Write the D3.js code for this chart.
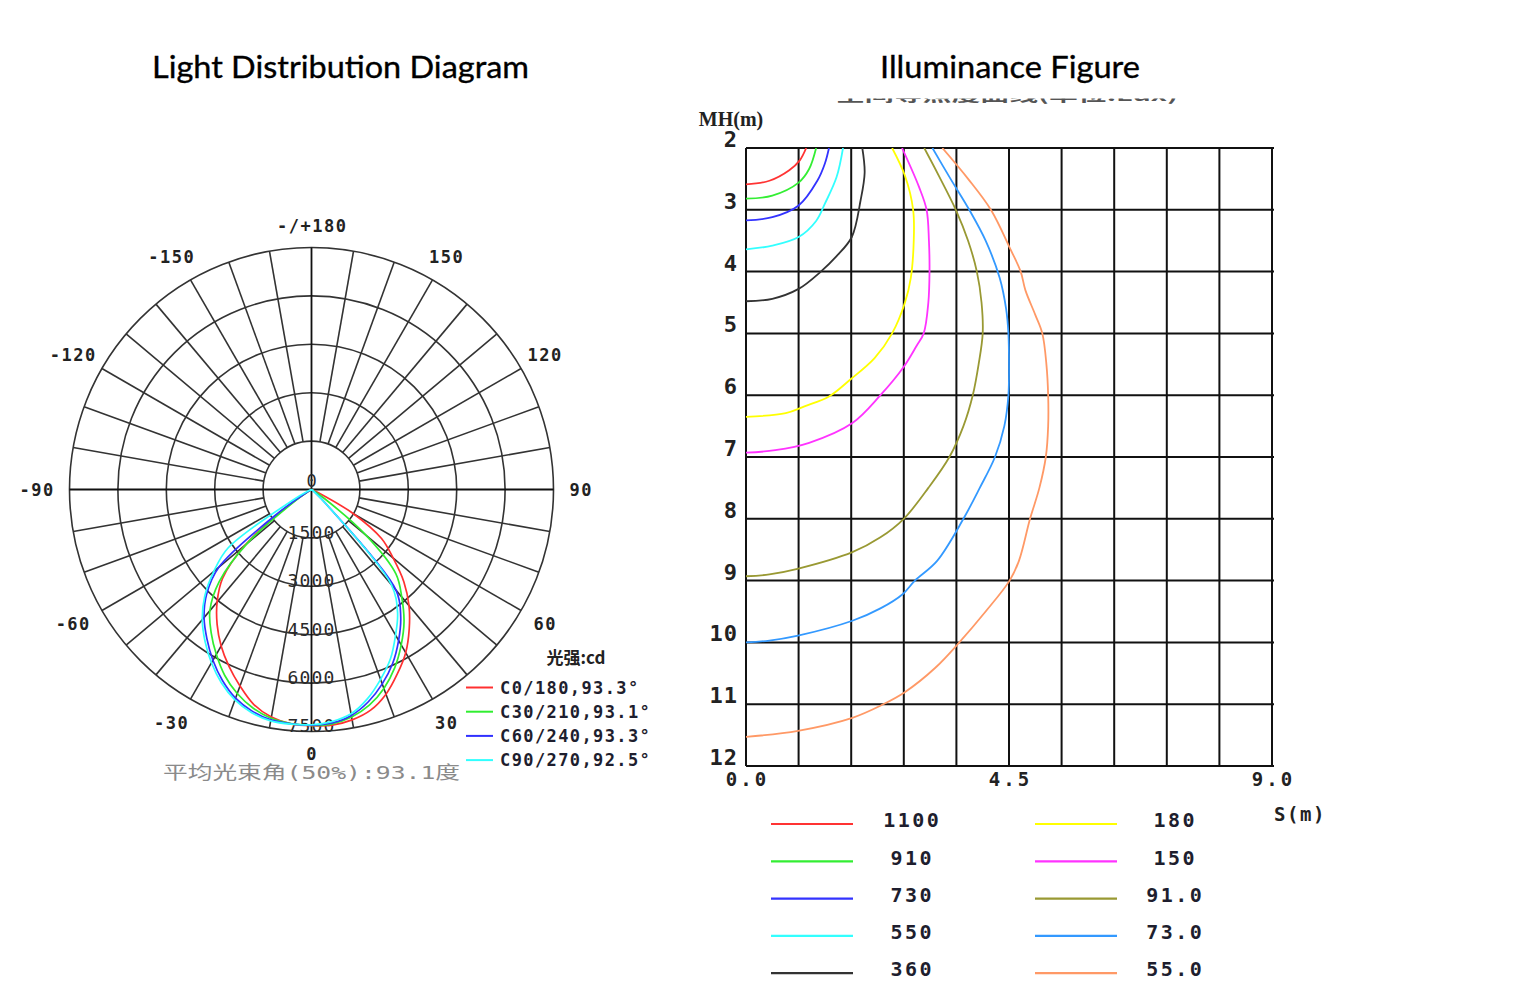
<!DOCTYPE html>
<html><head><meta charset="utf-8">
<script src="https://cdn.jsdelivr.net/npm/d3@7"></script>
<style>body{margin:0;background:#fff;}svg{display:block}</style>
</head><body>
<svg id="chart" width="1526" height="994"></svg>
<script>
// ---------- DATA: light distribution (cd) ----------
const gammaAngles = [0,5,10,15,20,25,30,35,40,45,50,55,60,65,70,75,80,85,90];
const planeC0   = [7320,7330,7250,7080,6750,6300,5840,5280,4700,4050,3300,2650,1500,250,30,0,0,0,0];
const planeC180 = [7320,7290,7160,6900,6480,6050,5600,5100,4550,3900,2700,900,150,0,0,0,0,0,0];
const planeC30  = [7310,7290,7160,6920,6560,6100,5560,5000,4350,3700,2200,500,50,0,0,0,0,0,0];
const planeC210 = [7310,7280,7200,7010,6730,6360,5900,5420,4900,4050,2600,600,80,0,0,0,0,0,0];
const planeC60  = [7300,7260,7110,6810,6410,5950,5400,4820,4080,700,150,0,0,0,0,0,0,0,0];
const planeC240 = [7300,7290,7250,7110,6880,6530,6110,5650,5180,4600,3750,1200,150,0,0,0,0,0,0];
const planeC90  = [7290,7220,7060,6710,6260,5790,5210,4650,3850,700,80,0,0,0,0,0,0,0,0];
const planeC270 = [7290,7300,7280,7160,6940,6610,6200,5750,5265,4680,3950,3150,700,100,0,0,0,0,0];
const polarLegendLabels = ["C0/180,93.3°","C30/210,93.1°","C60/240,93.3°","C90/270,92.5°"];
const polarColors = ["#ff3030","#30ee30","#3030ff","#30ffff"];
const ringValues = [1500,3000,4500,6000,7500];
const angleTicks = [0,30,60,90,120,150,180,-150,-120,-90,-60,-30];

// ---------- DATA: isolux curves [S (m), MH (m)] ----------
const isoLevels = ["1100","910","730","550","360","180","150","91.0","73.0","55.0"];
const isoColors = ["#ff3333","#33ee33","#3333ff","#33ffff","#333333","#ffff00","#ff33ff","#999933","#3399ff","#ff9966"];
const iso1100 = [[0,2.59],[0.4,2.53],[0.74,2.36],[0.92,2.2],[1.03,2.0]];
const iso910  = [[0,2.82],[0.45,2.77],[0.9,2.56],[1.08,2.34],[1.2,2.0]];
const iso730  = [[0,3.17],[0.45,3.12],[0.9,2.93],[1.22,2.53],[1.35,2.25],[1.42,2.0]];
const iso550  = [[0,3.64],[0.45,3.58],[0.9,3.44],[1.2,3.18],[1.35,2.9],[1.55,2.47],[1.66,2.0]];
const iso360  = [[0,4.48],[0.45,4.44],[0.9,4.28],[1.28,4.0],[1.55,3.75],[1.81,3.44],[1.96,2.85],[2.03,2.4],[1.99,2.0]];
const iso180  = [[0,6.35],[0.68,6.29],[1.0,6.18],[1.42,6.02],[1.78,5.75],[2.2,5.4],[2.5,5.0],[2.72,4.5],[2.82,4.1],[2.87,3.5],[2.86,3.0],[2.72,2.45],[2.5,2.0]];
const iso150  = [[0,6.93],[0.5,6.89],[1.08,6.77],[1.82,6.45],[2.3,6.0],[2.7,5.54],[2.92,5.2],[3.04,5.0],[3.12,4.5],[3.14,4.0],[3.13,3.5],[3.09,3.0],[2.96,2.63],[2.67,2.0]];
const iso91   = [[0,8.93],[0.4,8.9],[0.88,8.81],[1.82,8.54],[2.3,8.3],[2.7,8.0],[3.12,7.5],[3.48,7.0],[3.72,6.5],[3.88,6.0],[3.98,5.5],[4.05,5.0],[4.03,4.5],[3.95,4.0],[3.8,3.5],[3.59,3.0],[3.3,2.45],[3.05,2.0]];
const iso73   = [[0,10.0],[0.4,9.97],[0.89,9.89],[1.82,9.65],[2.3,9.45],[2.68,9.22],[2.89,9.0],[3.27,8.68],[3.72,8.0],[4.0,7.5],[4.26,7.0],[4.42,6.5],[4.49,6.0],[4.5,5.5],[4.49,5.0],[4.45,4.6],[4.34,4.1],[4.1,3.5],[3.82,3.0],[3.5,2.5],[3.19,2.0]];
const iso55   = [[0,11.53],[0.89,11.43],[1.82,11.22],[2.33,11.01],[2.71,10.81],[3.24,10.41],[3.65,10.0],[4.1,9.5],[4.51,9.0],[4.67,8.68],[4.86,8.0],[5.02,7.5],[5.13,7.0],[5.17,6.5],[5.17,6.0],[5.14,5.5],[5.07,5.0],[4.95,4.7],[4.78,4.3],[4.7,4.0],[4.53,3.65],[4.19,3.0],[3.8,2.5],[3.36,2.0]];
const mhTicks = [2,3,4,5,6,7,8,9,10,11,12];
const sTickLabels = ["0.0","4.5","9.0"];

// ---------- DRAW ----------
const svg = d3.select("#chart");
const MONO = "'DejaVu Sans Mono', 'Noto Sans CJK SC', monospace";

// Titles
svg.append("text").attr("x",340.5).attr("y",78).attr("text-anchor","middle")
  .attr("font-family","Lato, 'Open Sans', sans-serif").attr("font-size",30)
  .attr("textLength",377).attr("lengthAdjust","spacingAndGlyphs").attr("fill","#000")
  .attr("stroke","#000").attr("stroke-width",0.35)
  .text("Light Distribution Diagram");
svg.append("text").attr("x",1010).attr("y",78).attr("text-anchor","middle")
  .attr("font-family","Lato, 'Open Sans', sans-serif").attr("font-size",30)
  .attr("textLength",260).attr("lengthAdjust","spacingAndGlyphs").attr("fill","#000")
  .attr("stroke","#000").attr("stroke-width",0.35)
  .text("Illuminance Figure");

// ===== Polar chart =====
const cx = 311.5, cy = 489.5, R = 242;
const rScale = d3.scaleLinear().domain([0,7500]).range([0,R]);
const rad = d => d*Math.PI/180;
const pol = (g, r) => [cx + r*Math.sin(rad(g)), cy + r*Math.cos(rad(g))];
const pg = svg.append("g");

ringValues.forEach(v => {
  pg.append("circle").attr("cx",cx).attr("cy",cy).attr("r",rScale(v))
    .attr("fill","none").attr("stroke","#333").attr("stroke-width",1.6);
});
d3.range(0,360,10).filter(a => a%90 !== 0).forEach(a => {
  const p1 = pol(a, rScale(ringValues[0])), p2 = pol(a, R);
  pg.append("line").attr("x1",p1[0]).attr("y1",p1[1]).attr("x2",p2[0]).attr("y2",p2[1])
    .attr("stroke","#333").attr("stroke-width",1.6);
});
pg.append("line").attr("x1",cx-R).attr("y1",cy).attr("x2",cx+R).attr("y2",cy).attr("stroke","#111").attr("stroke-width",1.8);
pg.append("line").attr("x1",cx).attr("y1",cy-R).attr("x2",cx).attr("y2",cy+R).attr("stroke","#111").attr("stroke-width",1.8);

// ring labels
ringValues.forEach(v => {
  pg.append("text").attr("x",cx).attr("y",cy + rScale(v) - 5.5).attr("dy","0.35em")
    .attr("text-anchor","middle").attr("font-family",MONO).attr("font-size",18)
    .attr("letter-spacing",1.2).attr("fill","#2a2a2a").text(v);
});
pg.append("text").attr("x",cx).attr("y",cy-8).attr("dy","0.35em").attr("text-anchor","middle")
  .attr("font-family",MONO).attr("font-size",17).attr("fill","#2a2a2a").text("0");

// angle labels
angleTicks.forEach(a => {
  const r = a === 180 ? 263.5 : (a === 0 ? 264 : 269);
  const p = pol(a, r);
  const txt = a === 180 ? "-/+180" : String(a);
  const shift = (a < 0) ? -6 : 0;
  pg.append("text").attr("x",p[0]+shift+0.7).attr("y",p[1]).attr("dy","0.36em")
    .attr("text-anchor","middle").attr("font-family",MONO).attr("font-size",17)
    .attr("font-weight","bold").attr("letter-spacing",1.5).attr("fill","#222").text(txt);
});

// intensity curves
const radial = d3.lineRadial().angle(d => Math.PI - rad(d[0])).radius(d => rScale(d[1]))
  .curve(d3.curveCatmullRom.alpha(0.5));
const planes = [[planeC0,planeC180],[planeC30,planeC210],[planeC60,planeC240],[planeC90,planeC270]];
planes.forEach((pl, i) => {
  const right = pl[0], left = pl[1];
  const pts = [];
  for (let k = gammaAngles.length-1; k >= 1; k--) pts.push([-gammaAngles[k], left[k]]);
  pts.push([0, (right[0] + left[0]) / 2]);
  for (let k = 1; k < gammaAngles.length; k++) pts.push([gammaAngles[k], right[k]]);
  pg.append("path").attr("transform",`translate(${cx},${cy})`).attr("d",radial(pts))
    .attr("fill","none").attr("stroke",polarColors[i]).attr("stroke-width",1.7);
});

// polar legend
pg.append("text").attr("x",576).attr("y",658).attr("dy","0.35em").attr("text-anchor","middle")
  .attr("font-family","'Noto Sans CJK SC', sans-serif").attr("font-size",17).attr("font-weight","bold")
  .attr("fill","#222").text("光强:cd");
polarLegendLabels.forEach((t, i) => {
  const y = 687.5 + i*24.2;
  pg.append("line").attr("x1",466).attr("x2",493).attr("y1",y).attr("y2",y)
    .attr("stroke",polarColors[i]).attr("stroke-width",2);
  pg.append("text").attr("x",500).attr("y",y).attr("dy","0.36em")
    .attr("font-family",MONO).attr("font-size",17).attr("font-weight","bold")
    .attr("letter-spacing",1.4).attr("fill","#1e1e2e").text(t);
});
pg.append("text").attr("x",311.5).attr("y",773).attr("dy","0.36em").attr("text-anchor","middle")
  .attr("font-family",MONO).attr("font-size",18).attr("textLength",297).attr("lengthAdjust","spacingAndGlyphs")
  .attr("fill","#8a8a8a").text("平均光束角(50%):93.1度");

// ===== Illuminance figure =====
const xS = d3.scaleLinear().domain([0,9]).range([746,1272]);
const yMH = d3.scaleLinear().domain([2,12]).range([148,766]);
const ig = svg.append("g");

// clipped (partially hidden) chart caption
const defs = svg.append("defs");
defs.append("clipPath").attr("id","capClip").append("rect").attr("x",780).attr("y",98.5).attr("width",460).attr("height",5.5);
defs.append("clipPath").attr("id","plotClip").append("rect").attr("x",746).attr("y",148).attr("width",526).attr("height",618);
ig.append("text").attr("clip-path","url(#capClip)").attr("x",1007).attr("y",100.5)
  .attr("text-anchor","middle").attr("font-family","'Noto Sans CJK SC', sans-serif").attr("font-size",15)
  .attr("font-weight","bold").attr("textLength",342).attr("lengthAdjust","spacingAndGlyphs")
  .attr("fill","#555").text("空间等照度曲线(单位:Lux)");

// grid
d3.range(0, 11).map(i => i*0.9).forEach(s => {
  ig.append("line").attr("x1",xS(s)).attr("x2",xS(s)).attr("y1",yMH(2)).attr("y2",yMH(12))
    .attr("stroke","#111").attr("stroke-width",2);
});
mhTicks.forEach(m => {
  ig.append("line").attr("x1",xS(0)).attr("x2",xS(9)+2).attr("y1",yMH(m)).attr("y2",yMH(m))
    .attr("stroke","#111").attr("stroke-width",2);
  ig.append("text").attr("x",738).attr("y",yMH(m)-1).attr("text-anchor","end")
    .attr("font-family",MONO).attr("font-size",22).attr("font-weight","bold")
    .attr("letter-spacing",1).attr("fill","#222").text(m);
});
sTickLabels.forEach(t => {
  ig.append("text").attr("x",xS(+t)+1.5).attr("y",786).attr("text-anchor","middle")
    .attr("font-family",MONO).attr("font-size",19).attr("font-weight","bold")
    .attr("letter-spacing",3).attr("fill","#222").text(t);
});
ig.append("text").attr("x",731).attr("y",126).attr("text-anchor","middle")
  .attr("font-family","'Liberation Serif', serif").attr("font-size",20).attr("font-weight","bold")
  .attr("fill","#222").text("MH(m)");
ig.append("text").attr("x",1300).attr("y",821).attr("text-anchor","middle")
  .attr("font-family",MONO).attr("font-size",19).attr("font-weight","bold")
  .attr("letter-spacing",1.5).attr("fill","#222").text("S(m)");

// isolux curves
const isoLine = d3.line().x(d => xS(d[0])).y(d => yMH(d[1])).curve(d3.curveCatmullRom.alpha(0.5));
const isoData = [iso1100, iso910, iso730, iso550, iso360, iso180, iso150, iso91, iso73, iso55];
const cg = ig.append("g").attr("clip-path","url(#plotClip)");
isoData.forEach((d, i) => {
  cg.append("path").attr("d",isoLine(d)).attr("fill","none")
    .attr("stroke",isoColors[i]).attr("stroke-width",1.8);
});

// isolux legend
isoLevels.forEach((t, i) => {
  const col = Math.floor(i/5), row = i%5;
  const y = 824 + row*37.3;
  const x1 = col === 0 ? 771 : 1035;
  const tx = col === 0 ? 911 : 1174;
  ig.append("line").attr("x1",x1).attr("x2",x1+82).attr("y1",y).attr("y2",y)
    .attr("stroke",isoColors[i]).attr("stroke-width",2.2);
  ig.append("text").attr("x",tx+1.2).attr("y",y-4).attr("dy","0.36em").attr("text-anchor","middle")
    .attr("font-family",MONO).attr("font-size",20).attr("font-weight","bold")
    .attr("letter-spacing",2.4).attr("fill","#1e1e2e").text(t);
});
</script>
</body></html>
